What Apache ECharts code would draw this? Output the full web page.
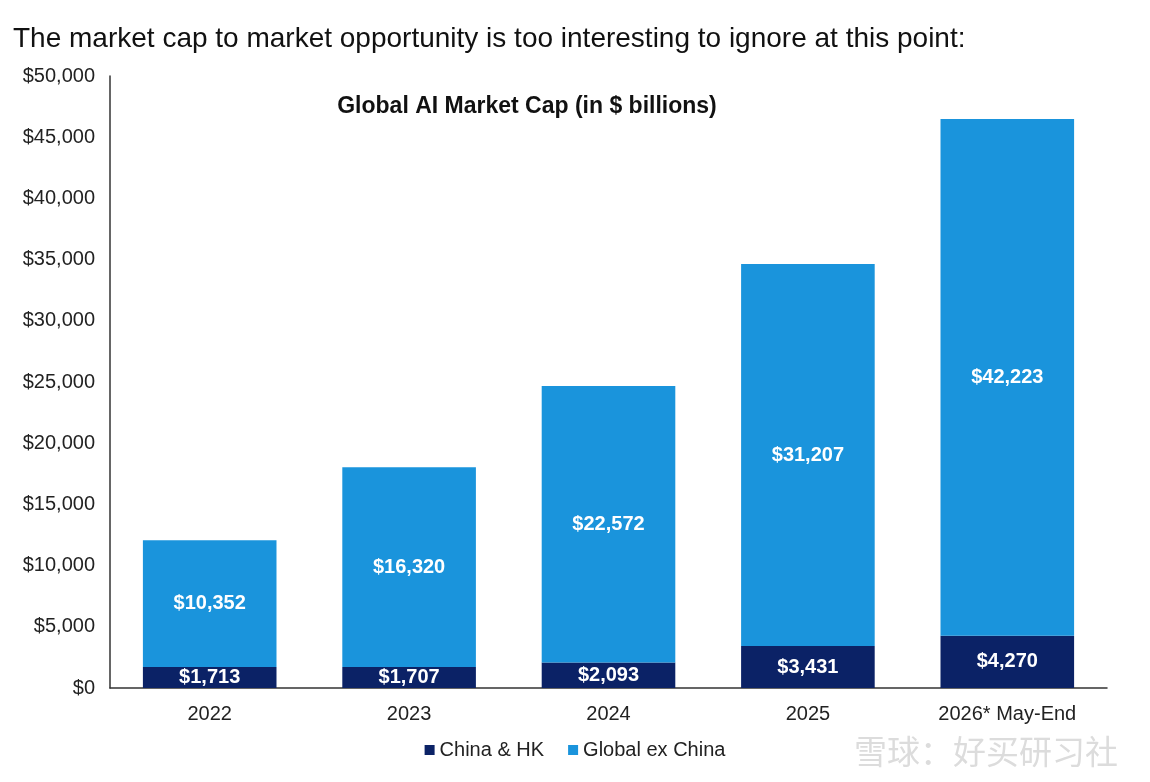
<!DOCTYPE html>
<html>
<head>
<meta charset="utf-8">
<script src="https://cdn.jsdelivr.net/npm/echarts@6/dist/echarts.min.js"></script>
<style>
  html, body { margin: 0; padding: 0; background: #fff; }
  #chart { width: 1150px; height: 782px; }
</style>
</head>
<body>
<div id="chart"></div>
<script>
var years = ['2022', '2023', '2024', '2025', '2026* May-End'];
var chinaHK = [1713, 1707, 2093, 3431, 4270];
var globalExChina = [10352, 16320, 22572, 31207, 42223];
var yTicks = [0, 5000, 10000, 15000, 20000, 25000, 30000, 35000, 40000, 45000, 50000];

var fmt = function(v) {
	return '$' + v.toLocaleString('en-US');
};

var myChart = echarts.init(document.getElementById('chart'));
var option = {
	backgroundColor: '#fff',
	animation: false,
	textStyle: { fontFamily: 'Liberation Sans, Arial, sans-serif' },
	title: [{
		text: 'The market cap to market opportunity is too interesting to ignore at this point:',
		left: 8,
		top: 20,
		textStyle: { fontSize: 28, fontWeight: 'normal', color: '#111' }
	}, {
		text: 'Global AI Market Cap (in $ billions)',
		left: 522,
		textAlign: 'center',
		top: 90,
		textStyle: { fontSize: 23, fontWeight: 'bold', color: '#111' }
	}],
	legend: {
		bottom: 17,
		left: 'center',
		itemWidth: 10,
		itemHeight: 10,
		itemGap: 24,
		icon: 'rect',
		textStyle: { fontSize: 20, color: '#222' },
		data: ['China & HK', 'Global ex China']
	},
	grid: { left: 110, right: 43, top: 76, bottom: 94 },
	xAxis: {
		type: 'category',
		data: years,
		axisTick: { show: false },
		axisLine: { lineStyle: { color: '#333', width: 1.5 } },
		axisLabel: { fontSize: 20, color: '#222', margin: 16 }
	},
	yAxis: {
		type: 'value',
		min: yTicks[0],
		max: yTicks[yTicks.length - 1],
		interval: 5000,
		splitLine: { show: false },
		axisTick: { show: false },
		axisLine: { show: true, lineStyle: { color: '#333', width: 1.5 } },
		axisLabel: { fontSize: 20, color: '#222', margin: 15, formatter: fmt }
	},
	series: [{
		name: 'China & HK',
		type: 'bar',
		stack: 'total',
		barWidth: '67%',
		data: chinaHK,
		itemStyle: { color: '#0b2266' },
		label: {
			show: true, position: 'inside', color: '#fff',
			fontSize: 20, fontWeight: 'bold',
			formatter: function(p) { return fmt(p.value); }
		}
	}, {
		name: 'Global ex China',
		type: 'bar',
		stack: 'total',
		data: globalExChina,
		itemStyle: { color: '#1a94dc' },
		label: {
			show: true, position: 'inside', color: '#fff',
			fontSize: 20, fontWeight: 'bold',
			formatter: function(p) { return fmt(p.value); }
		}
	}],
	graphic: [{
		type: 'text',
		right: 32,
		bottom: 14,
		style: {
			text: '雪球：好买研习社',
			fill: '#dcdcdc',
			font: '33px "Noto Sans CJK SC", sans-serif'
		}
	}]
};
myChart.setOption(option);
</script>
</body>
</html>
